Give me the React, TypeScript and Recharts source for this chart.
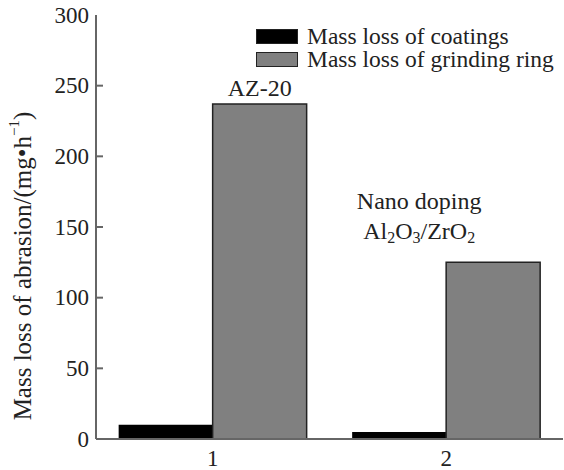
import React from 'react';
import { BarChart, Bar, XAxis, YAxis, LabelList } from 'recharts';

const categories = ['1', '2'];
const coatingLoss = [10, 5];
const ringLoss = [237, 125];
const yTicks = [0, 50, 100, 150, 200, 250, 300];
const seriesNames = ['Mass loss of coatings', 'Mass loss of grinding ring'];
const notes = ['AZ-20', 'Nano doping'];

const data = categories.map((c, i) => ({
  name: c,
  coating: coatingLoss[i],
  ring: ringLoss[i],
  note: notes[i],
}));

const FONT = '"Liberation Serif", "Times New Roman", serif';
const AXIS = '#666';
const txt = { fontFamily: FONT, fontSize: 23, fill: '#222' };
const noteTxt = { fontFamily: FONT, fontSize: 24, fill: '#222' };

const YTick = (props: any) => {
  const { x, y, payload } = props;
  return (
    <g>
      {payload.value !== 0 && payload.value !== 300 && (
        <line x1={x} x2={x + 7} y1={y} y2={y} stroke={AXIS} strokeWidth={2} />
      )}
      <text x={x - 7} y={y} textAnchor="end" dominantBaseline="central" style={txt}>
        {payload.value}
      </text>
    </g>
  );
};

const XTick = (props: any) => {
  const { x, y, payload } = props;
  return (
    <text x={x} y={y + 19} textAnchor="middle" dominantBaseline="central" style={txt}>
      {payload.value}
    </text>
  );
};

const NoteLabel = (props: any) => {
  const { x, y, width, index, value } = props;
  const cx = x + width / 2;
  if (index === 0) {
    return (
      <text x={cx} y={y - 16} textAnchor="middle" dominantBaseline="central" style={noteTxt}>
        {value}
      </text>
    );
  }
  return (
    <g>
      <text x={cx - 74} y={y - 61} textAnchor="middle" dominantBaseline="central" style={noteTxt}>
        {value}
      </text>
      <text x={cx - 74} y={y - 31} textAnchor="middle" dominantBaseline="central" style={noteTxt}>
        Al<tspan dy={6} fontSize={16}>2</tspan>
        <tspan dy={-6}>O</tspan>
        <tspan dy={6} fontSize={16}>3</tspan>
        <tspan dy={-6}>/ZrO</tspan>
        <tspan dy={6} fontSize={16}>2</tspan>
      </text>
    </g>
  );
};

export default function App() {
  return (
    <div style={{ position: 'absolute', left: 0, top: 0, width: 564, height: 470, background: '#fff' }}>
      <BarChart
        width={564}
        height={470}
        data={data}
        margin={{ top: 15, right: 1, bottom: 0, left: 0 }}
        barGap={0}
        barCategoryGap="9.7%"
      >
        <XAxis
          dataKey="name"
          height={31}
          tickLine={false}
          tickSize={0}
          tickMargin={0}
          axisLine={{ stroke: AXIS, strokeWidth: 2 }}
          tick={<XTick />}
        />
        <XAxis xAxisId="top" orientation="top" dataKey="name" height={0} tick={false} tickLine={false} axisLine={{ stroke: AXIS, strokeWidth: 2 }} />
        <YAxis
          width={96}
          domain={[0, 300]}
          ticks={yTicks}
          interval={0}
          tickLine={false}
          tickSize={0}
          tickMargin={0}
          axisLine={{ stroke: AXIS, strokeWidth: 2 }}
          tick={<YTick />}
        />
        <Bar dataKey="coating" name={seriesNames[0]} fill="#000" isAnimationActive={false} />
        <Bar dataKey="ring" name={seriesNames[1]} fill="#808080" stroke="#222" strokeWidth={1.5} isAnimationActive={false}>
          <LabelList dataKey="note" content={<NoteLabel />} />
        </Bar>
      </BarChart>

      <svg width={60} height={470} style={{ position: 'absolute', left: 0, top: 0 }}>
        <text
          transform="translate(22, 266) rotate(-90)"
          textAnchor="middle"
          dominantBaseline="central"
          style={{ fontFamily: FONT, fontSize: 25, fill: '#222' }}
        >
          Mass loss of abrasion/(mg•h
          <tspan dy={-8} fontSize={15}>−1</tspan>
          <tspan dy={8}>)</tspan>
        </text>
      </svg>

      <div style={{ position: 'absolute', left: 256, top: 25, fontFamily: FONT, fontSize: 23.5, color: '#222' }}>
        {seriesNames.map((n, i) => (
          <div key={n} style={{ display: 'flex', alignItems: 'center', height: 23, lineHeight: '23px' }}>
            <span
              style={{
                display: 'inline-block',
                width: 40,
                height: 13,
                background: i === 0 ? '#000' : '#808080',
                border: '1px solid #222',
                marginRight: 9,
              }}
            />
            <span style={{ whiteSpace: 'nowrap' }}>{n}</span>
          </div>
        ))}
      </div>
    </div>
  );
}
